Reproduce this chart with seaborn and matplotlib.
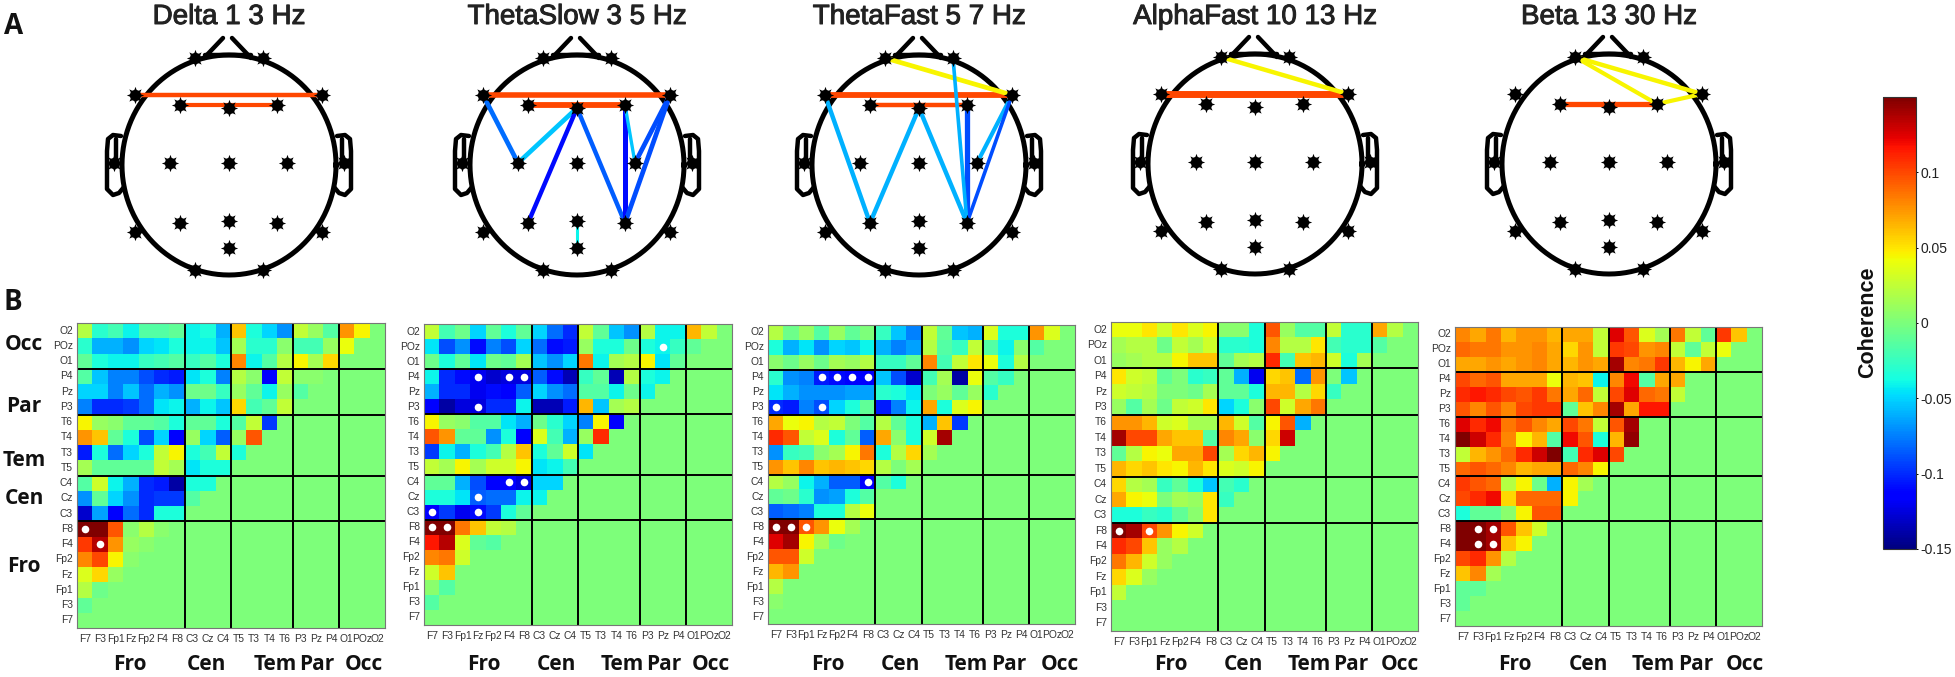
import numpy as np
import pandas as pd
import matplotlib
matplotlib.use("Agg")
import matplotlib.pyplot as plt
import matplotlib.patheffects as pe
import seaborn as sns

plt.rcParams['font.family'] = ['Liberation Sans', 'DejaVu Sans']

W, H = 1955, 677
COLS = ["F7","F3","Fp1","Fz","Fp2","F4","F8","C3","Cz","C4","T5","T3","T4","T6","P3","Pz","P4","O1","POz","O2"]
ROWS = ["O2","POz","O1","P4","Pz","P3","T6","T4","T3","T5","C4","Cz","C3","F8","F4","Fp2","Fz","Fp1","F3","F7"]
TITLES = ["Delta 1 3 Hz","ThetaSlow 3 5 Hz","ThetaFast 5 7 Hz","AlphaFast 10 13 Hz","Beta 13 30 Hz"]
GROUPS = ["Fro","Cen","Tem","Par","Occ"]

# coherence x 100, rows top to bottom, cells left to right (missing cells are 0)
delta = [
 [2,-3,-2,-4,-1.5,-1.5,-1,-4,-3.5,-6,6,-3.5,-5,-7,2.5,1,-1.5,7.5,4.5],
 [-3,-6,-6,-7,-5,-4.5,-3.5,-4,-4,-5.5,1.5,-3,-3,.5,-2,-2,1,4],
 [-1,-3.5,-4,-4,-2.5,-2,-1.5,-2.5,-1.5,-3.5,8,-4,-1.5,2,4.5,1.5,5.5],
 [-1.5,-5.5,-7.5,-7.5,-9,-10,-10.5,-4.5,-3.5,-7.5,2,.5,-11.5,2.5,.5,.5],
 [-5,-5,-7.5,-5.5,-8,-6,-7,-.5,-.5,-2.5,1,-1,-4,1,-1.5],
 [-7.5,-10,-10,-9.5,-8,-4.5,-4,-6,-4,-5.5,5.5,-2,-1,2.5],
 [4.5,1,.5,-1,-1,-1.5,-3.5,-1,-1,-3.5,-1.5,2.5,-9.5],
 [7.5,6,-1,-3.5,-9,-5,-11.5,1,-5,-8.5,1,9.5],
 [-10.5,-3.5,-8,-5,-3.5,2.5,4.5,-3.5,-2,2.5,-3.5],
 [1.5,-1,-1,-1,-1,2.5,1.5,-4.5,-3.5,-3.5],
 [-1.5,3,-4,-6,-10,-10.5,-14,-3.5,-3.5],
 [-7,-1,-5,-7,-10,-9.5,-9.5,-1.5],
 [-13,-6.5,-11.5,-8,-10,-3.5,-3.5],
 [15,15,9.5,.5,2,.5],
 [10.5,13.5,7.5,1,.5],
 [8,10,4.5,.5],
 [3.5,5.5,1],
 [2,-.5],
 [-1],
 [],
]
theta_slow = [
 [2.5,-2,-.5,-5,-1,-3.5,-1,-5,-8,-10,2.5,-1,-5.5,-7,2,-4,-4,6.5,2.5],
 [-4.5,-9,-7,-11,-7.5,-9,-5,-8,-11,-10.5,1,-3.5,-3.5,-.5,-3.5,-4,-2.5,-1],
 [-.5,-3.5,-1,-4.5,-.5,-1,1.5,-5.5,-7,-5,8.5,-4,1.5,2,4.5,-4.5,-1],
 [-4,-10,-11,-12,-13,-12.5,-12.5,-8.5,-11,-13.5,-2.5,-1,-13.5,2,-3.5,-4],
 [-6,-10,-10,-12,-11,-11.5,-8.5,-5,-7,-8,-1.5,-1.5,-4,-.5,-4],
 [-11.5,-14,-12.5,-12.5,-10,-10,-4,-13.5,-13.5,-10.5,6.5,-5.5,1.5,2],
 [4.5,1,.5,-1.5,-1.5,-4.5,-6,-.5,-3,-5,-7.5,4.5,-11.5],
 [9.5,7.5,-1,-1,-7,-3.5,-11.5,3.5,-2,-6,1,11],
 [-9.5,-4,-6,-3.5,-2,2,6,-3.5,-1,3,-4.5],
 [2.5,1.5,4.5,1.5,3,3,4.5,-4.5,-4,-2],
 [-1,-1,-6,-9,-11.5,-11.5,-12.5,-5,-5],
 [-3.5,-3.5,-4.5,-8.5,-8,-8,-4,-4],
 [-11.5,-9.5,-12,-11,-9.5,-3.5,-1],
 [15,15,8.5,6,2.5,2],
 [11.5,13.5,3.5,-1,-1.5],
 [8,8.5,3],
 [3,6],
 [.5,-1.5],
 [-1.5],
 [],
]
theta_fast = [
 [2,-.5,1,-1.5,1,-1,0,-2.5,-5.5,-7.5,2.5,-1,-5.5,-6,3.5,-3.5,-3.5,7.5,3.5],
 [-3.5,-6,-4.5,-7,-5,-5.5,-4,-6,-7.5,-6.5,2,-1.5,-2.5,2.5,-1.5,-4,.5,-1.5],
 [.5,-.5,1,-.5,1.5,1,2,-2.5,-2.5,-1,8,-2,2.5,5,4,-3.5,2],
 [-3,-7,-7.5,-10.5,-11,-11.5,-11.5,-5.5,-9,-13,-2,1.5,-14,4,-1.5,-2.5],
 [-4.5,-6,-7,-7,-7,-6.5,-6.5,-3,-3.5,-4.5,0,1,-1,1,-3],
 [-10,-10.5,-7.5,-9,-5,-3.5,-1,-10.5,-7.5,-4,7,-3.5,3.5,4.5],
 [7,4,4.5,2,2.5,0,-1.5,2,-1,-3.5,-6,6,-9.5],
 [11,9.5,2.5,3.5,-3.5,-1,-8.5,7,.5,-3.5,3,14],
 [-7,-2.5,-2,.5,1.5,4.5,8.5,-3.5,2,5.5,1.5],
 [7.5,6,8,6,6.5,6,5.5,2,0,1.5],
 [2,1,-4,-6,-8.5,-8.5,-11.5,-1.5,-3.5],
 [-1,-.5,-3,-7,-6.5,-3.5,-1.5],
 [-8.5,-8,-7.5,-3.5,-3.5,2,4],
 [15,15,9.5,7.5,4,1.5],
 [12.5,14,4.5,1.5,-.5],
 [9.5,9.5,3],
 [6.5,7.5],
 [2],
 [.5],
 [],
]
alpha_fast = [
 [4,4,5,3,5,3.5,4.5,.5,.5,-3.5,9.5,1,-1.5,-1.5,2.5,-3,-3,7,2],
 [1.5,2,2,-.5,2.5,1.5,3,-3,-3,-3.5,8,2,2,5,-2,-3,-3,-1.5],
 [1,1.5,2,2,4.5,6,6,-1,1.5,2,11,-2,6,6.5,3,-3.5,1.5],
 [5,3,2.5,-1,0,-3,-2.5,-1,-6,-12,5.5,6,-8,7.5,0,-5.5],
 [3,2.5,2,0,0,-.5,1.5,-1,-1,-3.5,6.5,6.5,2,5.5,-2.5],
 [1,-1.5,1.5,-.5,2.5,3,5,-5,-3.5,.5,10,3,7,8.5],
 [7.5,7.5,6.5,3,3.5,1.5,1.5,6.5,3,-1.5,4.5,9.5,-6],
 [14,10,10,7,6,6,-1.5,8,7,.5,5.5,13],
 [-1,2,4.5,4,7,7,10,1.5,5.5,6.5,4.5],
 [6.5,5.5,6,5,4.5,6.5,5,3.5,3,4.5],
 [5.5,2,1.5,-2.5,-1,-3.5,-5.5,-2,-3],
 [7,4.5,4,0,1.5,1,5,-2.5],
 [-3.5,-3.5,-2.5,-3,-1,.5,5],
 [15,14,10,7.5,4.5,3],
 [11,10,6,1,2],
 [8.5,6.5,3,1],
 [5.5,3.5,1],
 [2.5],
 [],
 [],
]
beta = [
 [8,7,8.5,6.5,7.5,7.5,6.5,7,7,2.5,12.5,9.5,3.5,1.5,8.5,2.5,-1,10.5,6],
 [9,8.5,8.5,7.5,7.5,8,7,5.5,7.5,2.5,10.5,10,7.5,8,2.5,-1,2.5,4],
 [7,7,7.5,7,7.5,8,7,6.5,7.5,7,14,8,8.5,10.5,6.5,4.5,7],
 [10,9,9.5,7,7,7,4,6.5,6,-4,8,12,-1.5,7,7],
 [11,11.5,11,10,9.5,10.5,8.5,7,9,2.5,10,12.5,9,8.5,2.5],
 [9.5,8,9.5,8,10,10.5,10.5,-1,6,8,14,7,11.5,11.5],
 [12.5,11,12,8.5,9.5,8,7,10,8.5,2.5,9.5,14],
 [15,13,11,8,4.5,6.5,-1.5,12,9.5,-3.5,6.5,14.5],
 [2.5,6.5,7.5,9,11,13,15,-2,11,12.5,10],
 [9,9.5,9,8,6.5,7,7,9,8,4.5],
 [10.5,9.5,9,2,4.5,-.5,-6,4.5,1.5],
 [10,11,12,5.5,9,9,9,4.5],
 [-3.5,-1,-1,.5,4.5,9.5,9.5],
 [15,15,14,9.5,6,3],
 [15,15,14,6,4.5],
 [10,11,7.5,2],
 [6,8,1.5],
 [-1,-1],
 [-1],
 [],
]
PANELS = [delta, theta_slow, theta_fast, alpha_fast, beta]

# significant cells (row, column)
dots_delta = [("F8","F7"),("F4","F3")]
dots_slow = [("POz","Pz"),("P4","Fz"),("P4","F4"),("P4","F8"),("P3","Fz"),("C4","F4"),("C4","F8"),
             ("Cz","Fz"),("C3","F7"),("C3","Fz"),("F8","F7"),("F8","F3")]
dots_fast = [("P4","Fz"),("P4","Fp2"),("P4","F4"),("P4","F8"),("P3","F7"),("P3","Fz"),("C4","F8"),
             ("F8","F7"),("F8","F3"),("F8","Fp1")]
dots_alpha = [("F8","F7"),("F8","Fp1")]
dots_beta = [("F8","F3"),("F8","Fp1"),("F4","F3"),("F4","Fp1")]
DOTS = [dots_delta, dots_slow, dots_fast, dots_alpha, dots_beta]

# scalp connections: (electrode, electrode, coherence x 100, width)
links_delta = [("F7","F8",10,3.2),("F3","F4",10,3)]
links_slow = [("F7","F8",10,4),("F3","F4",10,4.2),("F7","C3",-8,3.4),("C3","Fz",-5.5,3.4),("Fz","P3",-11,3.2),
              ("Fz","P4",-8.5,3.2),("F4","P4",-11,3.6),("F4","C4",-5.5,2.4),("F8","C4",-9,3.4),("F8","P4",-9,3.4),("Pz","POz",-4,2.2)]
links_fast = [("F7","F8",10,4.2),("F3","F4",10,3.2),("Fp1","F8",4.5,3.4),("F7","P3",-6,3.2),("P3","Fz",-6,3.2),
              ("Fz","P4",-6,3.2),("F4","P4",-9,3.8),("Fp2","P4",-6,2.6),("F8","C4",-6,3),("F8","P4",-9,2.6)]
links_alpha = [("F7","F8",10,5),("Fp1","F8",4.5,3.2)]
links_beta = [("F3","F4",10,3.8),("Fp1","F8",4.5,3.2),("Fp1","F4",4.5,3),("F4","F8",4.5,3)]
LINKS = [links_delta, links_slow, links_fast, links_alpha, links_beta]

# electrode offsets from the head centre in pixels (y down)
ELECTRODES = {"Fp1":(-34,-105),"Fp2":(34,-105),"F7":(-94,-68),"F8":(93,-68),"F3":(-49,-58),"Fz":(0,-55),"F4":(48,-58),
              "T3":(-115,0),"C3":(-59,0),"Cz":(0,0),"C4":(58,0),"T4":(115,0),"T5":(-94,69),"T6":(93,69),
              "P3":(-49,60),"Pz":(0,58),"P4":(48,60),"POz":(0,85),"O1":(-34,107),"O2":(34,107)}

HEAD_X = [229, 577, 919, 1255, 1609]
HEAD_Y = [163, 163, 163, 162, 162]
GRID = [(77,323,308,305),(424,324,308,301),(768,325,307,299),(1111,322,307,309),(1455,327,307,299)]
LABEL_CELLS = [[3.45,8.4,12.9,15.6,18.6],[3.9,8.6,12.9,15.6,18.6],[3.9,8.6,12.9,15.7,19.0],
               [3.9,8.6,12.9,15.6,18.8],[3.9,8.7,12.9,15.7,18.9]]
BOUNDS_X = [7,10,14,17]
BOUNDS_Y = [3,6,10,13]
VMIN, VMAX = -0.15, 0.15
TICKS = [0.1,0.05,0,-0.05,-0.1,-0.15]
TICK_TEXT = ["0.1","0.05","0","-0.05","-0.1","-0.15"]
cmap = plt.get_cmap("jet")
norm = plt.Normalize(VMIN, VMAX)

def px_axes(fig, l, t, w, h):
    return fig.add_axes([l/W, 1-(t+h)/H, w/W, h/H])

def to_frame(rows):
    arr = np.zeros((20,20))
    for i, r in enumerate(rows):
        arr[i, :len(r)] = r
    return pd.DataFrame(arr/100, index=ROWS, columns=COLS)

fig = plt.figure(figsize=(W/100, H/100), dpi=100, facecolor="white")

cax = px_axes(fig, 1883, 97, 33, 452)
for k, (rows, box) in enumerate(zip(PANELS, GRID)):
    ax = px_axes(fig, *box)
    last = k == len(PANELS)-1
    sns.heatmap(to_frame(rows), ax=ax, cmap="jet", vmin=VMIN, vmax=VMAX, square=False,
                cbar=last, cbar_ax=cax if last else None, linewidths=0)
    ax.set_xlabel(""); ax.set_ylabel("")
    ax.tick_params(length=0, labelsize=7.4, labelcolor="#333333")
    ax.tick_params(axis="x", pad=4.5)
    ax.tick_params(axis="y", pad=3)
    ax.set_xticklabels(COLS, rotation=0)
    ax.set_yticklabels(ROWS, rotation=0)
    for s in ax.spines.values():
        s.set_visible(True); s.set_color("#777777"); s.set_linewidth(0.8)
    ax.vlines(BOUNDS_X, 0, 20, color="black", lw=1.4)
    ax.hlines(BOUNDS_Y, 0, 20, color="black", lw=1.4)
    ax.scatter([COLS.index(c)+.5 for _, c in DOTS[k]], [ROWS.index(r)+.5 for r, _ in DOTS[k]],
               s=30, c="white", linewidths=0, zorder=5)
    l, t, w, h = box
    for name, cell in zip(GROUPS, LABEL_CELLS[k]):
        fig.text((l+cell*w/20)/W, 1-665/H, name, ha="center", va="center", family="Open Sans",
                 fontweight="bold", fontsize=15, color="#111111")
    if last:
        cb = ax.collections[0].colorbar

cb.set_ticks(TICKS); cb.set_ticklabels(TICK_TEXT)
cb.ax.tick_params(length=1.5, width=0.7, labelsize=10, pad=2, labelcolor="#222222")
cb.outline.set_edgecolor("#333333"); cb.outline.set_linewidth(0.8)
fig.text(1868/W, 1-322/H, "Coherence", rotation=90, ha="center", va="center",
         fontweight="bold", fontsize=15.5, color="#111111")

for name, y in zip(["Occ","Par","Tem","Cen","Fro"], [345,407,461,498,567]):
    fig.text(24/W, 1-y/H, name, ha="center", va="center", family="Open Sans", fontweight="bold",
             fontsize=15, color="#111111")
fig.text(4/W, 1-27/H, "A", ha="left", va="center", family="Open Sans", fontweight="bold", fontsize=20, color="#111111")
fig.text(4/W, 1-302/H, "B", ha="left", va="center", family="Open Sans", fontweight="bold", fontsize=20, color="#111111")

# scalp maps
theta = np.linspace(0, 2*np.pi, 361)
overlay = fig.add_axes([0,0,1,1], facecolor="none")
overlay.set_xlim(0, W); overlay.set_ylim(H, 0); overlay.axis("off")
EAR_L = [(-108,-27),(-116,-28),(-121,-24),(-122,-12),(-122,14),(-122,26),(-116,32),(-110,30),(-105,24)]
EAR_R = [(-x,y) for x,y in EAR_L]
EAR_IN_L = [(-113,-24),(-113,-4)]
EAR_IN_R = [(113,-24),(113,-4)]
NOSE_L = [(-25,-105),(-6,-125)]
NOSE_R = [(3,-125),(22,-105)]
NOSE_B = [(-24,-108),(22,-108)]
for cx, cy, title, links in zip(HEAD_X, HEAD_Y, TITLES, LINKS):
    overlay.plot(cx+107*np.cos(theta), cy+2+110*np.sin(theta), color="black", lw=3.6, zorder=2)
    for part in (EAR_L, EAR_R, EAR_IN_L, EAR_IN_R, NOSE_L, NOSE_R, NOSE_B):
        xs, ys = zip(*part)
        overlay.plot(np.add(xs,cx), np.add(ys,cy), color="black", lw=3.2, zorder=2, solid_capstyle="round")
    for a, b, v, lw in links:
        ax0, ay0 = ELECTRODES[a]; bx0, by0 = ELECTRODES[b]
        overlay.plot([cx+ax0, cx+bx0], [cy+ay0, cy+by0], color=cmap(norm(v/100)), lw=lw, zorder=3, solid_capstyle="butt")
    for ex, ey in ELECTRODES.values():
        overlay.plot(cx+ex, cy+ey, marker="o", ms=8.2, color="black", mew=0, zorder=4)
        overlay.plot(cx+ex, cy+ey, marker=(8,1,0), ms=12.5, color="black", mew=0, zorder=4)
    overlay.text(cx, 17, title, ha="center", va="center", fontsize=20, color="#222222",
                 path_effects=[pe.withStroke(linewidth=0.7, foreground="#222222")])

fig.savefig("out.png", dpi=100, facecolor="white")
